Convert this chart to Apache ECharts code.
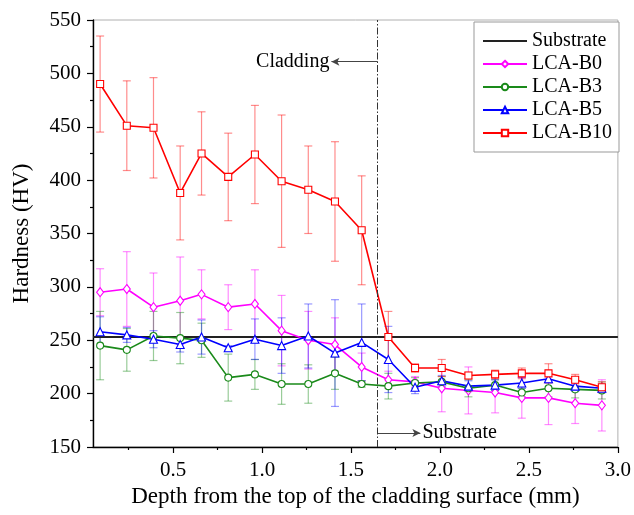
<!DOCTYPE html>
<html>
<head>
<meta charset="utf-8">
<script src="https://cdn.jsdelivr.net/npm/echarts@6/dist/echarts.min.js"></script>
<style>
html,body{margin:0;padding:0;background:#fff;}
#chart{width:634px;height:515px;}
</style>
</head>
<body>
<div id="chart"></div>
<script>
// ---- data ----
const depth = [0.09, 0.24, 0.39, 0.54, 0.66, 0.81, 0.96, 1.11, 1.26, 1.41, 1.56, 1.71, 1.86, 2.01, 2.16, 2.31, 2.46, 2.61, 2.76, 2.91];
const b0 = [295, 298, 281, 287, 293, 281, 284, 259, 250, 246, 225, 213, 211, 205, 203, 201, 196, 196, 191, 189];
const b0Err = [22, 35, 32, 41, 23, 21, 32, 33, 27, 25, 13, 8, 5, 22, 22, 19, 19, 25, 19, 24];
const b3 = [245, 241, 254, 252, 250, 215, 218, 209, 209, 219, 209, 207, 210, 211, 205, 208, 201, 205, 204, 203];
const b3Err = [32, 20, 23, 24, 16, 22, 14, 19, 18, 15, 3, 12, 5, 5, 8, 5, 4, 8, 8, 8];
const b5 = [258, 255, 251, 246, 253, 243, 251, 245, 254, 238, 248, 232, 206, 212, 207, 208, 210, 214, 207, 205];
const b5Err = [14, 7, 8, 7, 16, 2, 19, 26, 30, 50, 36, 31, 6, 5, 5, 5, 5, 4, 5, 4];
const b10 = [490, 451, 449, 388, 425, 403, 424, 399, 391, 380, 353, 253, 224, 224, 217, 218, 219, 219, 213, 206];
const b10Err = [45, 42, 47, 44, 39, 41, 46, 62, 41, 56, 51, 24, 4, 8, 3, 4, 5, 9, 5, 5];
const substrateHV = 253;
const xMin = 0.05, xMax = 3.0;
const xMajorTicks = [0.5, 1.0, 1.5, 2.0, 2.5, 3.0];
const xMinorTicks = [0.25, 0.75, 1.25, 1.75, 2.25, 2.75];
const boundaryDepth = 1.65;
const claddingArrow = [[1.65, 511], [1.39, 511]];
const substrateArrow = [[1.65, 163], [1.89, 163]];

const FONT = "'Liberation Serif','Times New Roman',serif";

function pairs(v){ return depth.map((x,i)=>[x, v[i]]); }
function errs(v, e){ return depth.map((x,i)=>[x, v[i]-e[i], v[i]+e[i]]); }

function errRender(params, api){
  const x = api.value(0), lo = api.value(1), hi = api.value(2);
  const p1 = api.coord([x, hi]), p2 = api.coord([x, lo]);
  const w = 4;
  const style = {stroke: api.visual('color'), lineWidth: 1.2, fill: null};
  return {type:'group', children:[
    {type:'line', shape:{x1:p1[0],y1:p1[1],x2:p2[0],y2:p2[1]}, style: style},
    {type:'line', shape:{x1:p1[0]-w,y1:p1[1],x2:p1[0]+w,y2:p1[1]}, style: style},
    {type:'line', shape:{x1:p2[0]-w,y1:p2[1],x2:p2[0]+w,y2:p2[1]}, style: style}
  ]};
}

function errSeries(name, v, e, color){
  return {type:'custom', name: name + ' err', renderItem: errRender, data: errs(v, e),
    itemStyle:{color: color}, encode:{x:0, y:[1,2]}, z: 1, silent: true, clip: true};
}
function lineSeries(name, v, color, symbol, size){
  return {type:'line', name: name, data: pairs(v), symbol: symbol, symbolSize: size,
    showSymbol: true,
    lineStyle:{color: color, width: 1.6},
    itemStyle:{color: '#fff', borderColor: color, borderWidth: 1.1},
    z: 3, animation: false};
}

const chart = echarts.init(document.getElementById('chart'), null, {renderer:'canvas'});
chart.setOption({
  animation: false,
  backgroundColor: '#fff',
  grid: {left: 93, right: 15, top: 20, bottom: 68, show: true, borderColor: '#b0b0b0', borderWidth: 1},
  legend: {
    data: [
      {name: 'Substrate', itemStyle: {color: 'rgba(0,0,0,0)', borderColor: 'rgba(0,0,0,0)', borderWidth: 0}},
      'LCA-B0', 'LCA-B3', 'LCA-B5', 'LCA-B10'
    ],
    orient: 'vertical', left: 474, top: 22,
    padding: [9, 7, 9, 8],
    borderColor: '#999', borderWidth: 1, backgroundColor: '#fff',
    itemWidth: 44, itemHeight: 8, itemGap: 3,
    textStyle: {fontFamily: FONT, fontSize: 20, color: '#000'}
  },
  xAxis: [{
    type: 'value', min: xMin, max: xMax,
    name: 'Depth from the top of the cladding surface (mm)',
    nameLocation: 'middle', nameGap: 37,
    nameTextStyle: {fontFamily: FONT, fontSize: 23, color: '#000'},
    axisLine: {show: true, lineStyle: {color: '#000', width: 1.4}},
    axisTick: {show: true, inside: false, length: 6, customValues: xMajorTicks, lineStyle: {color: '#000', width: 1.2}},
    axisLabel: {customValues: xMajorTicks, fontFamily: FONT, fontSize: 21, color: '#000', margin: 13,
      formatter: v => v.toFixed(1)},
    splitLine: {show: false}
  }, {
    type: 'value', min: xMin, max: xMax, position: 'bottom', gridIndex: 0,
    axisLine: {show: false},
    axisTick: {show: true, inside: false, length: 3, customValues: xMinorTicks, lineStyle: {color: '#000', width: 1.2}},
    axisLabel: {show: false},
    splitLine: {show: false}
  }],
  yAxis: {
    type: 'value', min: 150, max: 550, interval: 50,
    name: 'Hardness (HV)', nameLocation: 'middle', nameGap: 60,
    nameTextStyle: {fontFamily: FONT, fontSize: 23, color: '#000'},
    axisLine: {show: true, lineStyle: {color: '#000', width: 1.4}},
    axisTick: {show: true, inside: false, length: 6, lineStyle: {color: '#000', width: 1.2}},
    minorTick: {show: true, splitNumber: 2, length: 3, lineStyle: {color: '#000', width: 1.2}},
    axisLabel: {fontFamily: FONT, fontSize: 21, color: '#000', margin: 12},
    splitLine: {show: false}
  },
  series: [
    errSeries('LCA-B0', b0, b0Err, 'rgba(255,0,255,0.45)'),
    errSeries('LCA-B3', b3, b3Err, 'rgba(0,128,0,0.4)'),
    errSeries('LCA-B5', b5, b5Err, 'rgba(0,0,255,0.4)'),
    errSeries('LCA-B10', b10, b10Err, 'rgba(255,0,0,0.45)'),
    {
      type: 'line', name: 'Substrate', data: [[xMin, substrateHV], [xMax, substrateHV]],
      symbol: 'none', lineStyle: {color: '#222', width: 2}, itemStyle: {color: '#000'}, z: 2,
      markLine: {
        silent: true, symbol: 'none', animation: false,
        label: {show: false},
        lineStyle: {color: '#333', width: 1, type: [7, 2, 1.5, 2]},
        data: [{xAxis: boundaryDepth}]
      }
    },
    lineSeries('LCA-B0', b0, '#ff00ff', 'diamond', [7, 9]),
    lineSeries('LCA-B3', b3, '#1a8a1a', 'circle', 7),
    lineSeries('LCA-B5', b5, '#0000ff', 'triangle', 8),
    Object.assign(lineSeries('LCA-B10', b10, '#ff0000', 'rect', 7), {
      markLine: {
        silent: true, animation: false,
        symbol: ['none', 'arrow'], symbolSize: [6, 8],
        lineStyle: {color: '#444', width: 1, type: 'solid'},
        label: {show: true, position: 'end', fontFamily: FONT, fontSize: 20, color: '#000', distance: 2},
        data: [
          [{coord: claddingArrow[0]}, {coord: claddingArrow[1], label: {formatter: 'Cladding'}}],
          [{coord: substrateArrow[0]}, {coord: substrateArrow[1], label: {formatter: 'Substrate'}}]
        ]
      }
    })
  ]
});
</script>
</body>
</html>
